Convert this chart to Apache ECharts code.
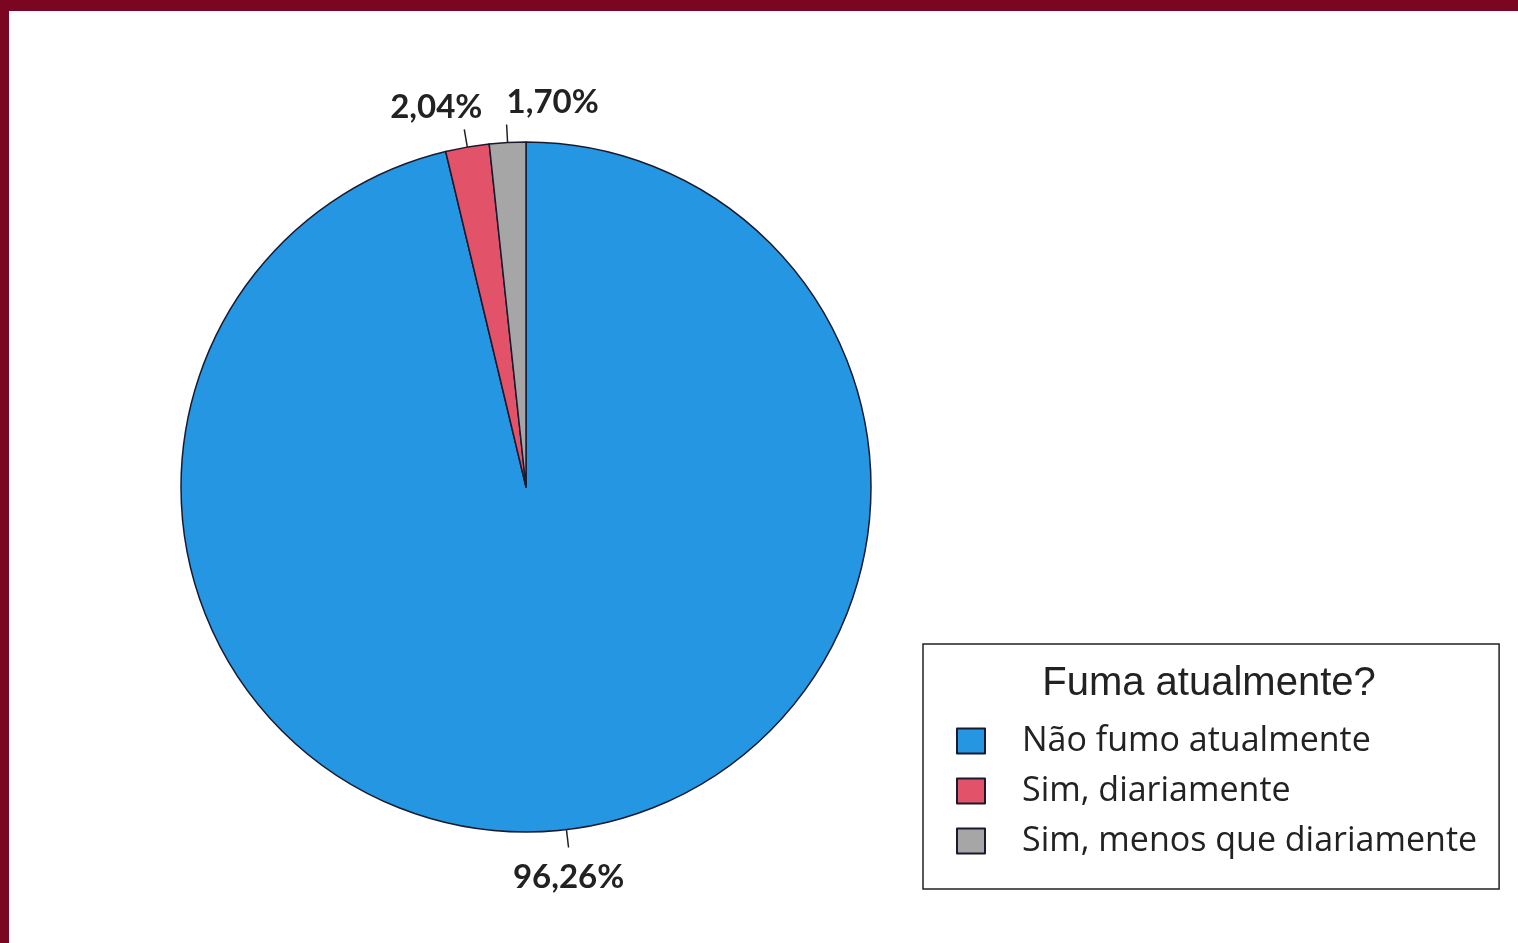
<!DOCTYPE html>
<html>
<head>
<meta charset="utf-8">
<script src="https://cdn.jsdelivr.net/npm/echarts@6/dist/echarts.min.js"></script>
<style>
html,body{margin:0;padding:0;background:#fff;}
#frame{position:absolute;left:0;top:0;width:1518px;height:943px;background:#7a0622;}
#chart{position:absolute;left:9px;top:11px;width:1509px;height:932px;background:#fff;}
</style>
</head>
<body>
<div id="frame"></div>
<div id="chart"></div>
<script>
const categories = ['Não fumo atualmente', 'Sim, diariamente', 'Sim, menos que diariamente'];
const values = [96.26, 2.04, 1.70];
const colors = ['#2496e2', '#e2536a', '#a6a6a6'];
const legendTitle = 'Fuma atualmente?';

const chart = echarts.init(document.getElementById('chart'));
const fmt = v => v.toFixed(2).replace('.', ',') + '%';

chart.setOption({
  backgroundColor: '#fff',
  animation: false,
  title: {
    text: legendTitle,
    left: 1195, top: 648, textAlign: 'center',
    textStyle: {fontFamily: 'Liberation Sans', fontWeight: 'normal', fontSize: 40, color: '#222'}
  },
  legend: {
    orient: 'vertical',
    left: 914, top: 633,
    padding: [80, 22, 31, 33],
    itemWidth: 28, itemHeight: 25, itemGap: 16,
    icon: 'rect',
    borderColor: '#222', borderWidth: 1.5,
    selectedMode: false,
    data: categories,
    textStyle: {fontFamily: 'Open Sans', fontSize: 34, color: '#222', padding: [0, 0, 0, 32]}
  },
  series: [{
    type: 'pie',
    center: [517, 476],
    radius: 345,
    startAngle: 90,
    clockwise: true,
    avoidLabelOverlap: false,
    data: categories.map((c, i) => ({name: c, value: values[i], itemStyle: {color: colors[i]}})),
    itemStyle: {borderColor: '#1a1a2e', borderWidth: 1.5},
    label: {
      show: true, position: 'outside',
      formatter: p => fmt(p.value),
      fontFamily: 'Lato', fontWeight: 'bold', fontSize: 33, color: '#222'
    },
    labelLine: {show: true, length: 18, length2: 0, lineStyle: {color: '#222', width: 1.5}},
    labelLayout: function (p) {
      const r = p.labelRect;
      const line = p.labelLinePoints;
      const end = line[line.length - 1];
      const top = end[1] < 476;
      const cx = p.dataIndex === 1 ? end[0] - 28 : (p.dataIndex === 2 ? end[0] + 46 : end[0]);
      return {
        dx: cx - (r.x + r.width / 2),
        dy: top ? (end[1] - 22) - (r.y + r.height / 2) : (end[1] + 30) - (r.y + r.height / 2)
      };
    },
    emphasis: {disabled: true}
  }]
});
</script>
</body>
</html>
